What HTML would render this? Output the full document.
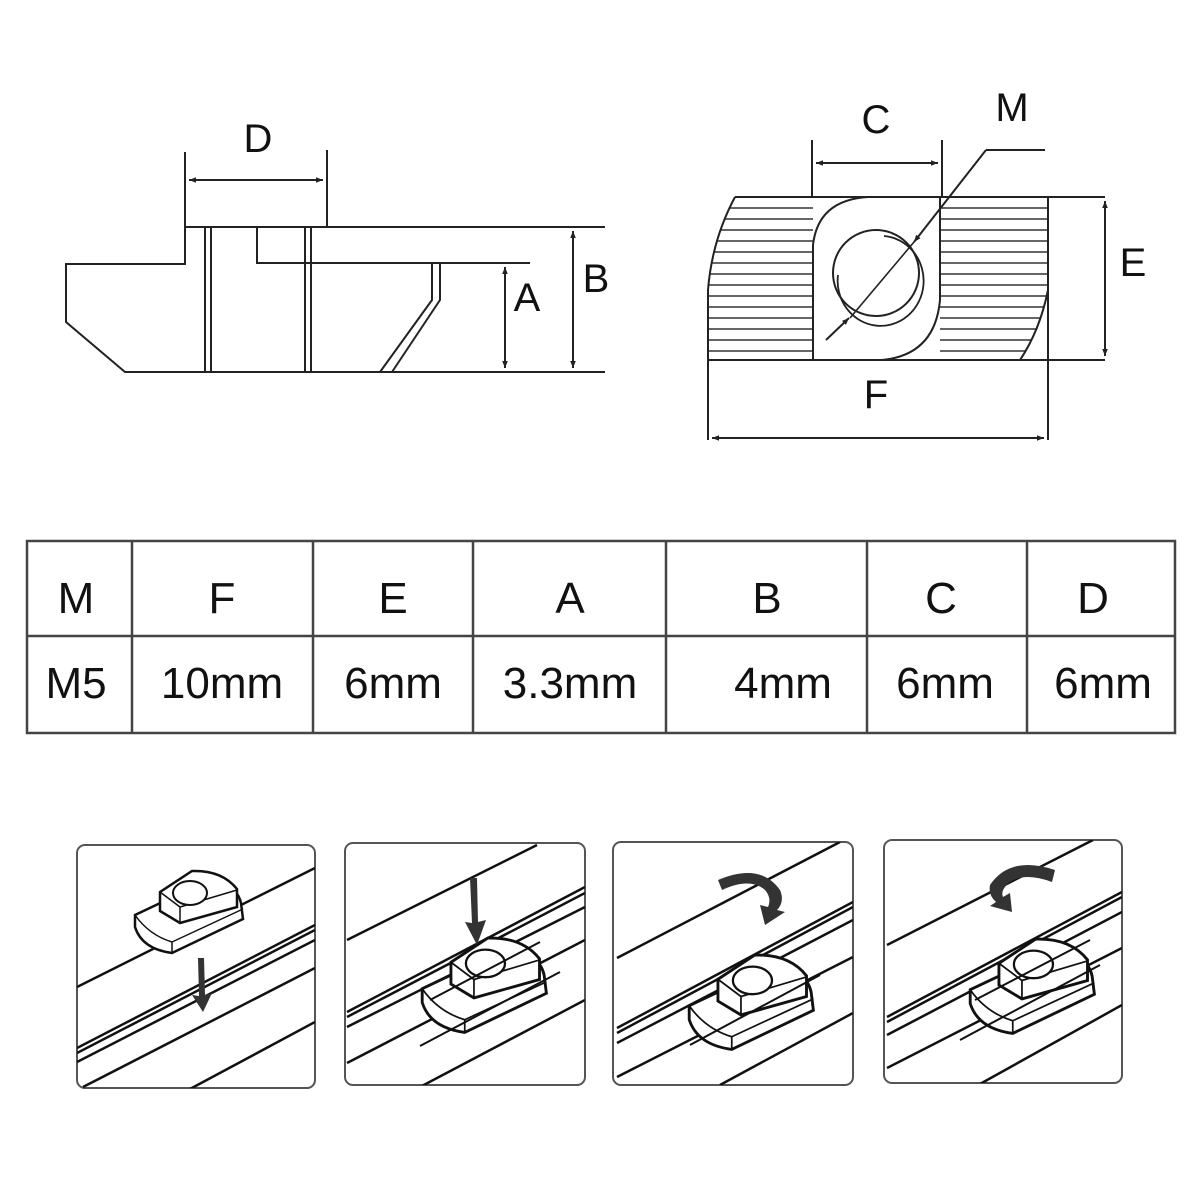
<!DOCTYPE html>
<html><head><meta charset="utf-8"><style>
html,body{margin:0;padding:0;background:#fff}
svg{display:block}
text{font-family:"Liberation Sans",sans-serif;fill:#111}
</style></head><body>
<svg width="1200" height="1200" viewBox="0 0 1200 1200" xmlns="http://www.w3.org/2000/svg">
<defs>
<marker id="ah" viewBox="0 0 10 10" refX="10" refY="5" markerWidth="9" markerHeight="7" orient="auto-start-reverse" markerUnits="userSpaceOnUse"><path d="M0,1 L10,5 L0,9 Z" fill="#222"/></marker>
<g id="nut">
<path d="M-52,18 L24,-18 Q50,-12 54,6 L56,22 L-15,56 Q-45,52 -52,30 Z" fill="#fff" stroke="#111" stroke-width="2.5"/>
<path d="M-52,18 Q-38,38 -15,45 L56,12 M-15,45 V56" fill="none" stroke="#111" stroke-width="1.5"/>
<path d="M-27,-5 L5,-26 Q35,-27 50,-8 L50,10 L-7,26 L-27,14 Z" fill="#fff" stroke="#111" stroke-width="2.5"/>
<path d="M-27,-5 L-7,10 L50,-7 M-7,10 V26" fill="none" stroke="#111" stroke-width="1.5"/>
<ellipse cx="3" cy="-4" rx="17" ry="12" fill="#fff" stroke="#111" stroke-width="2"/>
</g>
</defs>

<!-- Left side view -->
<g fill="none" stroke="#222" stroke-width="2">
<path d="M185,152 V228 M327,150 V228"/>
<path d="M189,180 H323" marker-start="url(#ah)" marker-end="url(#ah)"/>
<path d="M185,227 H605"/>
<path d="M185,228 V264 H66 V322 L125,372 H605"/>
<path d="M205,227 V372 M211,227 V372 M305,227 V372 M311,227 V372"/>
<path d="M257,227 V263 H530"/>
<path d="M432,263 V300 L380,372 M440,263 V300 L392,372"/>
<path d="M505,267 V368" marker-start="url(#ah)" marker-end="url(#ah)"/>
<path d="M573,231 V368" marker-start="url(#ah)" marker-end="url(#ah)"/>
</g>
<text x="258" y="152" font-size="40" text-anchor="middle">D</text>
<text x="527" y="311" font-size="40" text-anchor="middle">A</text>
<text x="596" y="292" font-size="40" text-anchor="middle">B</text>

<!-- Right top view -->
<defs>
<clipPath id="hl"><path d="M735,197 Q712,240 708,290 V360 H813 V197 Z"/></clipPath>
<clipPath id="hr"><path d="M940,197 H1048 V290 Q1040,330 1020,360 H940 Z"/></clipPath>
</defs>
<g stroke="#333" stroke-width="1.6" clip-path="url(#hl)">
<path d="M700,208H820M700,219H820M700,230H820M700,241H820M700,252H820M700,263H820M700,274H820M700,285H820M700,296H820M700,307H820M700,318H820M700,329H820M700,340H820M700,351H820"/>
</g>
<g stroke="#333" stroke-width="1.6" clip-path="url(#hr)">
<path d="M900,208H1060M900,219H1060M900,230H1060M900,241H1060M900,252H1060M900,263H1060M900,274H1060M900,285H1060M900,296H1060M900,307H1060M900,318H1060M900,329H1060M900,340H1060M900,351H1060"/>
</g>
<path d="M813,245 Q818,200 868,197 H940 V300 Q935,355 882,360 H813 Z" fill="#fff" stroke="none"/>
<g fill="none" stroke="#222" stroke-width="2">
<path d="M735,197 H1105 M708,360 H1105"/>
<path d="M735,197 Q712,240 708,290 V440"/>
<path d="M1048,197 V440"/>
<path d="M1048,290 Q1040,330 1020,360"/>
<path d="M813,360 V245 Q818,200 868,197 M940,197 V300 Q935,355 882,360"/>
<circle cx="876" cy="273" r="43"/>
<path d="M838,275 A43,45 0 1 0 884,236" stroke-width="1.8"/>
<path d="M812,140 V197 M942,140 V197"/>
<path d="M816,163 H938" marker-start="url(#ah)" marker-end="url(#ah)"/>
<path d="M986,150 H1045"/>
<path d="M986,150 L914,242" marker-end="url(#ah)"/>
<path d="M914,242 L850,318" stroke-width="1.6"/>
<path d="M826,340 L849,318" marker-end="url(#ah)"/>
<path d="M1105,201 V356" marker-start="url(#ah)" marker-end="url(#ah)"/>
<path d="M712,438 H1044" marker-start="url(#ah)" marker-end="url(#ah)"/>
</g>
<text x="876" y="133" font-size="40" text-anchor="middle">C</text>
<text x="1012" y="121" font-size="40" text-anchor="middle">M</text>
<text x="1133" y="276" font-size="40" text-anchor="middle">E</text>
<text x="876" y="408" font-size="40" text-anchor="middle">F</text>

<!-- Table -->
<g fill="none" stroke="#444" stroke-width="2.5">
<rect x="27" y="541" width="1148" height="192"/>
<path d="M27,636 H1175 M132,541 V733 M313,541 V733 M473,541 V733 M666,541 V733 M867,541 V733 M1027,541 V733"/>
</g>
<g font-size="44" text-anchor="middle">
<text x="76" y="613">M</text><text x="222" y="613">F</text><text x="393" y="613">E</text><text x="570" y="613">A</text><text x="767" y="613">B</text><text x="941" y="613">C</text><text x="1093" y="613">D</text>
<text x="76" y="698">M5</text><text x="222" y="698">10mm</text><text x="393" y="698">6mm</text><text x="570" y="698">3.3mm</text><text x="783" y="698">4mm</text><text x="945" y="698">6mm</text><text x="1103" y="698">6mm</text>
</g>

<!-- Panels -->
<defs>
<clipPath id="c1"><rect x="77" y="845" width="238" height="243" rx="8"/></clipPath>
<clipPath id="c2"><rect x="345" y="843" width="240" height="242" rx="8"/></clipPath>
<clipPath id="c3"><rect x="613" y="842" width="240" height="243" rx="8"/></clipPath>
<clipPath id="c4"><rect x="884" y="840" width="238" height="243" rx="8"/></clipPath>
</defs>
<g fill="none" stroke="#555" stroke-width="2">
<rect x="77" y="845" width="238" height="243" rx="8"/>
<rect x="345" y="843" width="240" height="242" rx="8"/>
<rect x="613" y="842" width="240" height="243" rx="8"/>
<rect x="884" y="840" width="238" height="243" rx="8"/>
</g>
<g fill="none" stroke="#111" stroke-width="2.5">
<g clip-path="url(#c1)">
<path d="M77,987 L315,868 M77,1048 L315,925 M77,1053 L315,930 M77,1062 L315,940 M83,1087 L315,968 M190,1089 L315,1022"/>
</g>
<g clip-path="url(#c2)">
<path d="M347,940 L537,845 M347,1012 L585,887 M347,1017 L585,893 M347,1027 L585,907 M347,1063 L585,940 M420,1087 L585,1000"/>
</g>
<g clip-path="url(#c3)">
<path d="M617,958 L840,842 M617,1028 L853,902 M617,1033 L853,907 M617,1043 L853,920 M617,1077 L853,957 M720,1085 L853,1013"/>
</g>
<g clip-path="url(#c4)">
<path d="M887,945 L1093,840 M887,1017 L1122,892 M887,1022 L1122,897 M887,1035 L1122,912 M887,1068 L1122,948 M980,1084 L1122,1005"/>
</g>
</g>
<use href="#nut" x="187" y="897"/>
<use href="#nut" transform="translate(482,968) scale(1.15)"/>
<use href="#nut" transform="translate(749,985) scale(1.15)"/>
<use href="#nut" transform="translate(1030,969) scale(1.15)"/>
<g fill="none" stroke="#111" stroke-width="2">
<path d="M420,1046 L560,972 M430,1000 L540,942"/>
<path d="M690,1045 L820,975"/>
<path d="M960,1040 L1100,965 M975,1000 L1090,940"/>
</g>
<g fill="#333" stroke="none">
<path d="M198,958 L204,958 L205,995 L212,993 L203,1012 L192,995 L199,996 Z"/>
<path d="M470,878 L477,878 L478,922 L486,920 L477,945 L465,922 L472,923 Z"/>
<path d="M718,880 Q760,862 780,890 Q785,902 777,910 L785,912 L765,925 L760,905 L768,907 Q772,898 765,890 Q750,877 722,890 Z"/>
<path d="M1055,870 Q1010,855 990,885 Q988,895 996,902 L990,906 L1012,912 L1010,893 L1003,897 Q1000,890 1010,882 Q1025,872 1052,882 Z"/>
</g>
</svg>
</body></html>
